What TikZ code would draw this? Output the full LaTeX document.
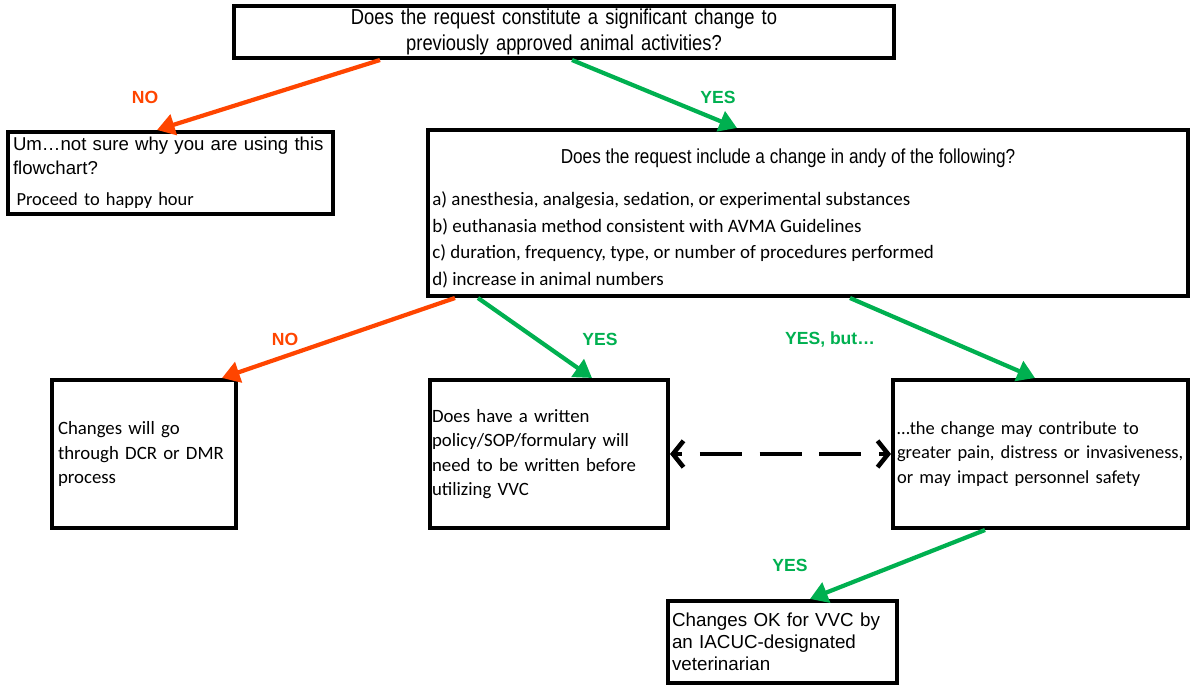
\documentclass[tikz,border=0pt]{standalone}
\usepackage{fontspec}
\setmainfont{Carlito}
\newfontfamily\arialfont{Liberation Sans}
\newfontfamily\narrowfont[FakeStretch=0.85]{Liberation Sans}
\usetikzlibrary{arrows.meta,calc}
\definecolor{nored}{RGB}{255,69,0}
\definecolor{yesgreen}{RGB}{0,176,80}

\begin{document}
\begin{tikzpicture}[x=0.02cm, y=-0.02cm,
		box/.style={draw, line width=2.3pt, inner sep=0pt, align=left, font=\fontsize{10.7}{14}\selectfont},
		noarrow/.style={nored, line width=2.4pt, -{Triangle[length=10pt,width=12pt]}},
		yesarrow/.style={yesgreen, line width=2.4pt, -{Triangle[length=10pt,width=12pt]}},
		nolbl/.style={text=nored, font=\arialfont\bfseries\fontsize{10}{12}\selectfont},
		yeslbl/.style={text=yesgreen, font=\arialfont\bfseries\fontsize{10}{12}\selectfont}]
	\useasboundingbox (0,0) rectangle (1190,686);
	
	\node[box, minimum width=13.2cm, minimum height=1.04cm, text width=13cm, align=center, font=\narrowfont\fontsize{12.3}{14.7}\selectfont] (q1) at (564,32) {Does the request constitute a significant change to\\previously approved animal activities?};
	
	\node[box, minimum width=6.5cm, minimum height=1.64cm, text width=6.3cm, font=\arialfont\fontsize{10.6}{13.6}\selectfont] (q1no) at (170.5,173) {\mbox{Um…not sure why you are using this}\\flowchart?\\[4pt]\hspace*{2pt}{\rmfamily\fontsize{10.5}{13.6}\selectfont Proceed to happy hour}};
	
	\node[box, minimum width=15.2cm, minimum height=3.32cm] (q2) at (808,213) {};
	\node[font=\narrowfont\fontsize{11.5}{14}\selectfont, inner sep=0pt] (q2head) at (788,158) {Does the request include a change in andy of the following?};
	\node[anchor=north west, inner sep=0pt, align=left, font=\fontsize{10.8}{15.3}\selectfont] (q2list) at (432,191) {a) anesthesia, analgesia, sedation, or experimental substances\\b) euthanasia method consistent with AVMA Guidelines\\c) duration, frequency, type, or number of procedures performed\\d) increase in animal numbers};
	
	\node[box, minimum width=3.68cm, minimum height=2.96cm, text width=3.44cm] (q2no) at (144,454) {Changes will go\\through DCR or DMR\\process};
	\node[box, minimum width=4.76cm, minimum height=2.96cm, text width=4.68cm, font=\fontsize{10.7}{13.9}\selectfont] (q2yes) at (549,454) {Does have a written\\policy/SOP/formulary will\\need to be written before\\utilizing VVC};
	\node[box, minimum width=5.9cm, minimum height=2.96cm, text width=5.74cm, font=\fontsize{10.5}{14}\selectfont] (q2but) at (1040.5,454) {…the change may contribute to\\\mbox{greater pain, distress or invasiveness,}\\or may impact personnel safety};
	
	\node[box, minimum width=4.58cm, minimum height=1.64cm, text width=4.42cm, font=\arialfont\fontsize{10.7}{12.5}\selectfont] (ok) at (782.5,642) {Changes OK for VVC by\\an IACUC-designated\\veterinarian};
	
	\draw[noarrow] ($(q1.south)+(-184,0)$) -- ($(q1no.north)+(-13.5,0)$);
	\draw[yesarrow] ($(q1.south)+(8,0)$) -- ($(q2.north)+(-71,0)$);
	\draw[noarrow] ($(q2.south)+(-353,0)$) -- ($(q2no.north)+(78,0)$);
	\draw[yesarrow] ($(q2.south)+(-330,0)$) -- ($(q2yes.north)+(43,0)$);
	\draw[yesarrow] ($(q2.south)+(42,0)$) -- ($(q2but.north)+(-5.5,0)$);
	\draw[line width=2.6pt, dash pattern=on 24pt off 10pt, dash phase=-14pt, {Straight Barb[length=6pt,width=15pt]}-{Straight Barb[length=6pt,width=15pt]}] (q2yes.east) -- (q2but.west);
	\draw[yesarrow] ($(q2but.south)+(-55.5,0)$) -- ($(ok.north)+(27.5,0)$);
	
	\node[nolbl] (no1) at (145,97) {NO};
	\node[yeslbl] (yes1) at (718,97) {YES};
	\node[nolbl] (no2) at (285,339) {NO};
	\node[yeslbl] (yes2) at (600,339) {YES};
	\node[yeslbl] (yes3) at (830,339) {YES, but…};
	\node[yeslbl] (yes4) at (790,565) {YES};
\end{tikzpicture}
\end{document}
